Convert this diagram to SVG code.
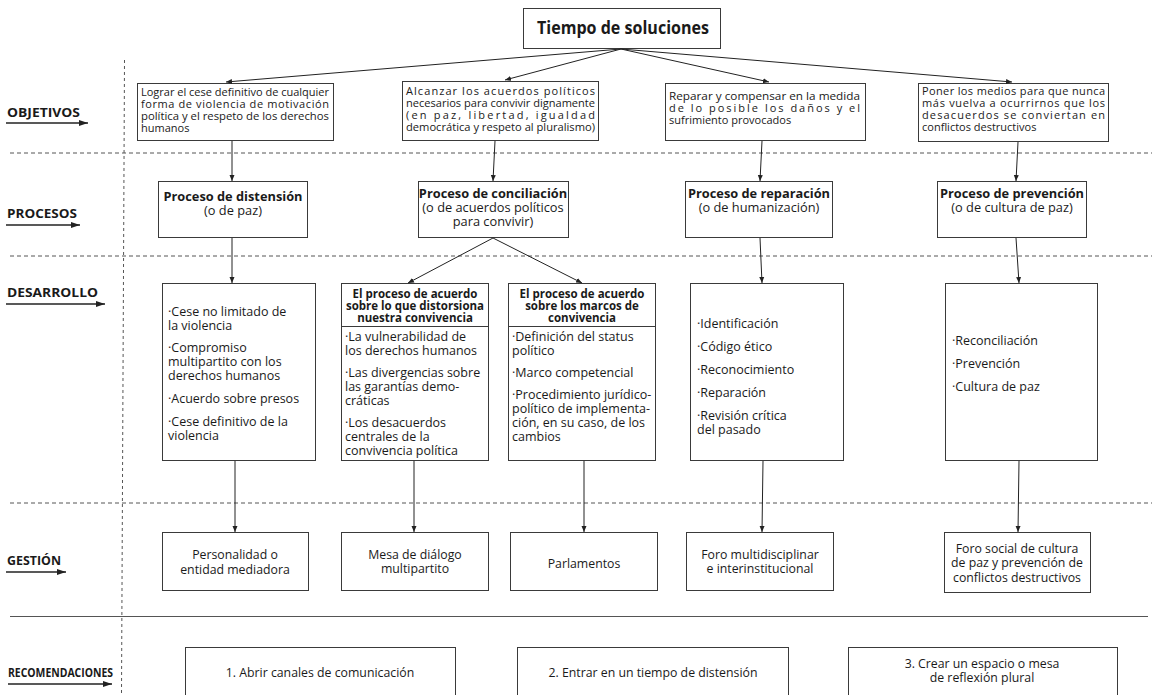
<svg xmlns="http://www.w3.org/2000/svg" width="1152" height="695" viewBox="0 0 1152 695">
<style>
.box{fill:#fff;stroke:#3a3a3a;stroke-width:1}
.t{font-family:"Open Sans","Noto Sans",sans-serif;fill:#1a1a1a}
.obj{font-size:11px}
.d{font-size:12.5px}
.g{font-size:12.3px}
.p{font-size:12.8px}
.b{font-weight:bold}
.m{text-anchor:middle}
.lbl{font-family:"Open Sans","Noto Sans",sans-serif;font-size:13px;font-weight:bold;fill:#1a1a1a}
.dash{stroke:#555;stroke-width:1;stroke-dasharray:4 3;fill:none}
.conn{stroke:#222;stroke-width:1;fill:none;marker-end:url(#ah)}
.la{stroke:#222;stroke-width:1.3;fill:none;marker-end:url(#lah)}
</style>
<defs>
<marker id="ah" markerUnits="userSpaceOnUse" markerWidth="7" markerHeight="6" refX="6" refY="3" orient="auto"><path d="M0,0.5 L6,3 L0,5.5 z" fill="#222"/></marker>
<marker id="lah" markerUnits="userSpaceOnUse" markerWidth="10" markerHeight="8" refX="9" refY="4" orient="auto"><path d="M0,1 L9,4 L0,7 z" fill="#222"/></marker>
</defs>
<rect width="1152" height="695" fill="#fff"/>
<g id="grid">
<line class="dash" x1="10" y1="153" x2="1152" y2="153"/>
<line class="dash" x1="10" y1="256" x2="1152" y2="256"/>
<line class="dash" x1="10" y1="503" x2="1152" y2="503"/>
<line x1="10" y1="616.5" x2="1148" y2="616.5" stroke="#555" stroke-width="1"/>
<line x1="124.5" y1="60" x2="121.5" y2="695" stroke="#555" stroke-width="1" stroke-dasharray="3 3"/>
</g>
<g id="labels">
<text class="lbl" x="7" y="117" textLength="73" lengthAdjust="spacingAndGlyphs">OBJETIVOS</text>
<line class="la" x1="6" y1="123" x2="88" y2="123"/>
<text class="lbl" x="7" y="218" textLength="70" lengthAdjust="spacingAndGlyphs">PROCESOS</text>
<line class="la" x1="6" y1="225" x2="80" y2="225"/>
<text class="lbl" x="7" y="297" textLength="91" lengthAdjust="spacingAndGlyphs">DESARROLLO</text>
<line class="la" x1="6" y1="304" x2="105" y2="304"/>
<text class="lbl" x="7" y="565" textLength="54" lengthAdjust="spacingAndGlyphs">GESTIÓN</text>
<line class="la" x1="6" y1="572" x2="66" y2="572"/>
<text class="lbl" x="8" y="677" font-size="11" textLength="105" lengthAdjust="spacingAndGlyphs">RECOMENDACIONES</text>
<line class="la" x1="8" y1="684" x2="112" y2="684"/>
</g>
<g id="title">
<rect class="box" x="523.5" y="8.5" width="197" height="40"/>
<text class="t b" x="537" y="34" font-size="17" textLength="172" lengthAdjust="spacingAndGlyphs">Tiempo de soluciones</text>
</g>
<g id="obj1">
<rect class="box" x="137.5" y="83.5" width="196" height="57"/>
<text class="t obj" x="141" y="96" textLength="188" lengthAdjust="spacingAndGlyphs">Lograr el cese definitivo de cualquier</text>
<text class="t obj" x="141" y="108" textLength="188" lengthAdjust="spacing">forma de violencia de motivación</text>
<text class="t obj" x="141" y="120" textLength="188" lengthAdjust="spacingAndGlyphs">política y el respeto de los derechos</text>
<text class="t obj" x="141" y="132">humanos</text>
</g>
<g id="obj2">
<rect class="box" x="402.5" y="81.5" width="196" height="59"/>
<text class="t obj" x="406" y="95" textLength="189" lengthAdjust="spacing">Alcanzar los acuerdos políticos</text>
<text class="t obj" x="406" y="107" textLength="189" lengthAdjust="spacingAndGlyphs">necesarios para convivir dignamente</text>
<text class="t obj" x="406" y="119" textLength="189" lengthAdjust="spacing">(en paz, libertad, igualdad</text>
<text class="t obj" x="406" y="131" textLength="189" lengthAdjust="spacingAndGlyphs">democrática y respeto al pluralismo)</text>
</g>
<g id="obj3">
<rect class="box" x="665.5" y="83.5" width="200" height="57"/>
<text class="t obj" x="669" y="100" textLength="191" lengthAdjust="spacingAndGlyphs">Reparar y compensar en la medida</text>
<text class="t obj" x="669" y="112" textLength="191" lengthAdjust="spacing">de lo posible los daños y el</text>
<text class="t obj" x="669" y="124">sufrimiento provocados</text>
</g>
<g id="obj4">
<rect class="box" x="918.5" y="83.5" width="190" height="58"/>
<text class="t obj" x="922" y="95" textLength="183" lengthAdjust="spacing">Poner los medios para que nunca</text>
<text class="t obj" x="922" y="107" textLength="183" lengthAdjust="spacing">más vuelva a ocurrirnos que los</text>
<text class="t obj" x="922" y="119" textLength="183" lengthAdjust="spacing">desacuerdos se conviertan en</text>
<text class="t obj" x="922" y="131">conflictos destructivos</text>
</g>
<g id="proc1">
<rect class="box" x="158.5" y="181.5" width="149" height="56"/>
<text class="t p b m" x="233" y="201">Proceso de distensión</text>
<text class="t p m" x="233" y="215">(o de paz)</text>
</g>
<g id="proc2">
<rect class="box" x="418.5" y="181.5" width="150" height="56"/>
<text class="t p b m" x="493" y="198">Proceso de conciliación</text>
<text class="t p m" x="493" y="212">(o de acuerdos políticos</text>
<text class="t p m" x="493" y="226">para convivir)</text>
</g>
<g id="proc3">
<rect class="box" x="685.5" y="181.5" width="147" height="56"/>
<text class="t p b m" x="759" y="198">Proceso de reparación</text>
<text class="t p m" x="759" y="212">(o de humanización)</text>
</g>
<g id="proc4">
<rect class="box" x="937.5" y="181.5" width="149" height="56"/>
<text class="t p b m" x="1012" y="198">Proceso de prevención</text>
<text class="t p m" x="1012" y="212">(o de cultura de paz)</text>
</g>
<g id="des1">
<rect class="box" x="162.5" y="283.5" width="153" height="177"/>
<text class="t d" x="168" y="316">·Cese no limitado de</text>
<text class="t d" x="168" y="330">la violencia</text>
<text class="t d" x="168" y="352">·Compromiso</text>
<text class="t d" x="168" y="366">multipartito con los</text>
<text class="t d" x="168" y="380">derechos humanos</text>
<text class="t d" x="168" y="403">·Acuerdo sobre presos</text>
<text class="t d" x="168" y="426">·Cese definitivo de la</text>
<text class="t d" x="168" y="440">violencia</text>
</g>
<g id="des2">
<rect class="box" x="341.5" y="283.5" width="147" height="177"/>
<line x1="341.5" y1="326.5" x2="488.5" y2="326.5" stroke="#3a3a3a"/>
<text class="t b m" font-size="11.5" x="415" y="298">El proceso de acuerdo</text>
<text class="t b m" font-size="11.5" x="415" y="310">sobre lo que distorsiona</text>
<text class="t b m" font-size="11.5" x="415" y="322">nuestra convivencia</text>
<text class="t d" x="345" y="341">·La vulnerabilidad de</text>
<text class="t d" x="345" y="355">los derechos humanos</text>
<text class="t d" x="345" y="377">·Las divergencias sobre</text>
<text class="t d" x="345" y="391">las garantías demo-</text>
<text class="t d" x="345" y="405">cráticas</text>
<text class="t d" x="345" y="427">·Los desacuerdos</text>
<text class="t d" x="345" y="441">centrales de la</text>
<text class="t d" x="345" y="455">convivencia política</text>
</g>
<g id="des3">
<rect class="box" x="508.5" y="283.5" width="147" height="177"/>
<line x1="508.5" y1="326.5" x2="655.5" y2="326.5" stroke="#3a3a3a"/>
<text class="t b m" font-size="11.5" x="582" y="298">El proceso de acuerdo</text>
<text class="t b m" font-size="11.5" x="582" y="310">sobre los marcos de</text>
<text class="t b m" font-size="11.5" x="582" y="322">convivencia</text>
<text class="t d" x="512" y="341">·Definición del status</text>
<text class="t d" x="512" y="355">político</text>
<text class="t d" x="512" y="377">·Marco competencial</text>
<text class="t d" x="512" y="399">·Procedimiento jurídico-</text>
<text class="t d" x="512" y="413">político de implementa-</text>
<text class="t d" x="512" y="427">ción, en su caso, de los</text>
<text class="t d" x="512" y="441">cambios</text>
</g>
<g id="des4">
<rect class="box" x="690.5" y="283.5" width="153" height="177"/>
<text class="t d" x="697" y="328">·Identificación</text>
<text class="t d" x="697" y="351">·Código ético</text>
<text class="t d" x="697" y="374">·Reconocimiento</text>
<text class="t d" x="697" y="397">·Reparación</text>
<text class="t d" x="697" y="420">·Revisión crítica</text>
<text class="t d" x="697" y="434">del pasado</text>
</g>
<g id="des5">
<rect class="box" x="945.5" y="283.5" width="152" height="177"/>
<text class="t d" x="952" y="345">·Reconciliación</text>
<text class="t d" x="952" y="368">·Prevención</text>
<text class="t d" x="952" y="391">·Cultura de paz</text>
</g>
<g id="ges1">
<rect class="box" x="162.5" y="532.5" width="146" height="58"/>
<text class="t g m" x="235" y="559">Personalidad o</text>
<text class="t g m" x="235" y="574">entidad mediadora</text>
</g>
<g id="ges2">
<rect class="box" x="341.5" y="532.5" width="147" height="58"/>
<text class="t g m" x="415" y="559">Mesa de diálogo</text>
<text class="t g m" x="415" y="573">multipartito</text>
</g>
<g id="ges3">
<rect class="box" x="510.5" y="532.5" width="147" height="58"/>
<text class="t g m" x="584" y="568">Parlamentos</text>
</g>
<g id="ges4">
<rect class="box" x="686.5" y="532.5" width="147" height="58"/>
<text class="t g m" x="760" y="559">Foro multidisciplinar</text>
<text class="t g m" x="760" y="573">e interinstitucional</text>
</g>
<g id="ges5">
<rect class="box" x="944.5" y="532.5" width="146" height="60"/>
<text class="t g m" x="1017" y="553">Foro social de cultura</text>
<text class="t g m" x="1017" y="567">de paz y prevención de</text>
<text class="t g m" x="1017" y="582">conflictos destructivos</text>
</g>
<g id="rec1">
<rect class="box" x="185.5" y="647.5" width="270" height="60"/>
<text class="t g m" x="320" y="677">1. Abrir canales de comunicación</text>
</g>
<g id="rec2">
<rect class="box" x="517.5" y="647.5" width="271" height="60"/>
<text class="t g m" x="653" y="677">2. Entrar en un tiempo de distensión</text>
</g>
<g id="rec3">
<rect class="box" x="848.5" y="647.5" width="269" height="60"/>
<text class="t g m" x="982" y="668">3. Crear un espacio o mesa</text>
<text class="t g m" x="982" y="682">de reflexión plural</text>
</g>
<g id="connectors">
<line class="conn" x1="621" y1="49" x2="226" y2="82"/>
<line class="conn" x1="621" y1="49" x2="505" y2="80"/>
<line class="conn" x1="621" y1="49" x2="769" y2="82"/>
<line class="conn" x1="621" y1="49" x2="1012" y2="82"/>
<line class="conn" x1="232" y1="141" x2="232" y2="181"/>
<line class="conn" x1="495" y1="141" x2="493" y2="181"/>
<line class="conn" x1="762" y1="141" x2="760" y2="181"/>
<line class="conn" x1="1018" y1="142" x2="1016" y2="181"/>
<line class="conn" x1="232" y1="238" x2="232" y2="283"/>
<line class="conn" x1="493" y1="238" x2="408" y2="283"/>
<line class="conn" x1="493" y1="238" x2="582" y2="283"/>
<line class="conn" x1="760" y1="238" x2="762" y2="283"/>
<line class="conn" x1="1016" y1="238" x2="1019" y2="283"/>
<line class="conn" x1="235" y1="461" x2="235" y2="532"/>
<line class="conn" x1="414" y1="461" x2="414" y2="532"/>
<line class="conn" x1="584" y1="461" x2="584" y2="532"/>
<line class="conn" x1="763" y1="461" x2="762" y2="532"/>
<line class="conn" x1="1019" y1="461" x2="1018" y2="532"/>
</g>
</svg>
